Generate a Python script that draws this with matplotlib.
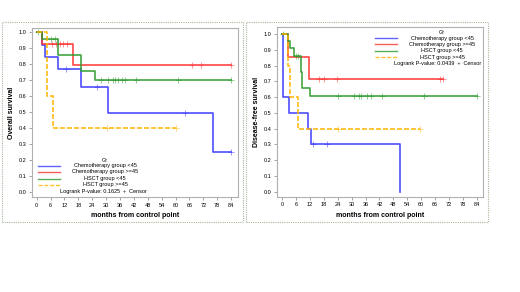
import numpy as np
import matplotlib
matplotlib.use('Agg')
import matplotlib.pyplot as plt
from matplotlib.lines import Line2D
from matplotlib.patches import Rectangle

plt.rcParams['font.family'] = ['Liberation Sans', 'DejaVu Sans']

W, H = 520, 292

groups = ['Chemotherapy group <45', 'Chemotherapy group >=45', 'HSCT group <45', 'HSCT group >=45']
colors = ['#3b3bff', '#ff3333', '#2e9a2e', '#ffb300']
styles = ['-', '-', '-', (0, (3, 1.2))]

# overall survival: step times, survival, last follow-up, censor times
os_times = [[0, 2.5, 3.5, 9, 19, 31, 76],
            [0, 2.5, 15.5],
            [0, 2.5, 9, 19, 25],
            [0, 4.3, 7.2]]
os_surv = [[1, .923, .846, .769, .659, .494, .247],
           [1, .929, .795],
           [1, .955, .857, .757, .70],
           [1, .60, .40]]
os_end = [84, 84, 84, 60]
os_censor = [[12.5, 26, 64, 84],
             [6.5, 8.5, 10, 11.5, 13, 67, 71, 84],
             [0.5, 6, 8, 28, 31, 33, 34, 35, 37, 38, 43, 61, 84],
             [30.5, 60]]
os_p = '0.1625'

# disease-free survival
dfs_times = [[0, 0.5, 3, 11, 12.5, 51],
             [0, 2.7, 11.8],
             [0, 2.5, 3.5, 5, 8, 8.5, 12],
             [0, 2.5, 3.5, 7]]
dfs_surv = [[1, .60, .50, .40, .30, 0],
            [1, .857, .714],
            [1, .955, .91, .864, .76, .66, .61],
            [1, .80, .60, .40]]
dfs_end = [51, 69.5, 84, 59.5]
dfs_censor = [[13.5, 19.5],
              [16, 18, 23.5, 68, 69.5],
              [0.5, 6, 7, 24, 31, 33, 34, 36.5, 38.5, 43, 61, 84],
              [24, 59.5]]
dfs_p = '0.0439'

xticks = np.arange(0, 85, 6)
yticks = np.round(np.arange(0, 1.01, 0.1), 1)


def fx(x):
    return x / W


def fy(y):
    return 1 - y / H


fig = plt.figure(figsize=(W / 100, H / 100), dpi=100)

# outer panel frames
for x0, x1 in [(2, 243), (246, 488)]:
    fig.add_artist(Rectangle((fx(x0), fy(222)), fx(x1 - x0), (222 - 22) / H,
                             transform=fig.transFigure, fill=False,
                             ec='#a8b8a0', lw=0.8, ls=(0, (1, 1))))


def draw_panel(rect, xlim, ylim, times, surv, ends, censors, ylabel):
    ax = fig.add_axes(rect)
    for t, s, e, c, col, ls in zip(times, surv, ends, censors, colors, styles):
        tt = list(t) + [e]
        ss = list(s) + [s[-1]]
        ax.step(tt, ss, where='post', color=col, lw=1.2, ls=ls, alpha=0.9)
        ci = np.searchsorted(t, c, side='right') - 1
        cs = np.array(s)[ci]
        ax.plot(c, cs, ls='none', marker='+', ms=4, mew=0.6, color=col, alpha=0.6)
    ax.set_xlim(*xlim)
    ax.set_ylim(*ylim)
    ax.set_xticks(xticks)
    ax.set_yticks(yticks)
    ax.set_yticklabels([f'{v:.1f}' for v in yticks])
    ax.tick_params(labelsize=4, length=2, width=0.5, color='#808080', pad=2)
    for sp in ax.spines.values():
        sp.set_color('#b0b0b0')
        sp.set_linewidth(0.8)
    ax.set_xlabel('months from control point', fontsize=5, fontweight='bold', labelpad=3.5)
    ax.set_ylabel(ylabel, fontsize=5, fontweight='bold', labelpad=2.5)
    return ax


def draw_legend(xl0, xl1, xc, ytitle, rows, ylog, xlog, p):
    fig.text(fx(xc), fy(ytitle), 'Gr', fontsize=4, ha='center', va='center')
    for g, col, ls, yr in zip(groups, colors, styles, rows):
        fig.add_artist(Line2D([fx(xl0), fx(xl1)], [fy(yr), fy(yr)], color=col,
                              lw=1.0, ls=ls, alpha=0.8, transform=fig.transFigure))
        fig.text(fx(xc), fy(yr), g, fontsize=4, ha='center', va='center')
    fig.text(fx(xlog), fy(ylog), f'Logrank P-value: {p}  +  Censor', fontsize=4,
             ha='center', va='center')


draw_panel([fx(32), fy(197), fx(206), (197 - 28) / H], (-2.03, 87.0), (-0.033, 1.027),
           os_times, os_surv, os_end, os_censor, 'Overall survival')
draw_panel([fx(276.7), fy(196.7), fx(206), (196.7 - 26.7) / H], (-2.28, 86.5), (-0.032, 1.048),
           dfs_times, dfs_surv, dfs_end, dfs_censor, 'Disease-free survival')

draw_legend(38, 60, 105, 160.5, [166, 172, 178.5, 184.5], 191, 103.5, os_p)
draw_legend(375, 397, 442, 32.3, [38.3, 44.3, 50.7, 57.3], 63.3, 438, dfs_p)

fig.savefig('out.png', dpi=100)
